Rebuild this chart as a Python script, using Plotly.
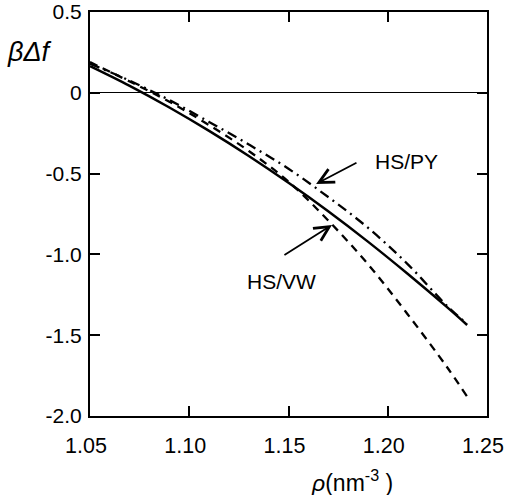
import plotly.graph_objects as go

rho = [1.05, 1.07, 1.09, 1.11, 1.13, 1.15, 1.17, 1.19, 1.21, 1.23, 1.24]
hs_solid = [0.165, 0.043, -0.091, -0.236, -0.391, -0.557, -0.733, -0.921, -1.12, -1.328, -1.437]
hs_py = [0.18, 0.075, -0.045, -0.18, -0.32, -0.47, -0.645, -0.835, -1.06, -1.32, -1.43]
hs_vw = [0.19, 0.07, -0.055, -0.20, -0.36, -0.55, -0.79, -1.06, -1.37, -1.70, -1.88]

x_ticks = [1.05, 1.10, 1.15, 1.20, 1.25]
x_ticktext = ["1.05", "1.10", "1.15", "1.20", "1.25"]
y_ticks = [0.5, 0, -0.5, -1.0, -1.5, -2.0]
y_ticktext = ["0.5", "0", "-0.5", "-1.0", "-1.5", "-2.0"]

FONT = "Liberation Sans, Arial, sans-serif"

fig = go.Figure()
fig.add_trace(go.Scatter(x=rho, y=hs_vw, mode="lines", line=dict(color="black", width=2.3, dash="8px,6px", shape="spline"), showlegend=False))
fig.add_trace(go.Scatter(x=rho, y=hs_py, mode="lines", line=dict(color="black", width=2.3, dash="10px,5px,2px,5px", shape="spline"), showlegend=False))
fig.add_trace(go.Scatter(x=rho, y=hs_solid, mode="lines", line=dict(color="black", width=2.5, shape="spline"), showlegend=False))

fig.update_xaxes(range=[1.05, 1.25], tickvals=x_ticks, ticktext=x_ticktext, automargin=False,
                 ticks="inside", ticklen=10, tickwidth=2, tickcolor="black",
                 showline=True, linecolor="black", linewidth=2, mirror="allticks",
                 showgrid=False, zeroline=False, ticklabelstandoff=9, ticklabelshift=-4,
                 ticklabeloverflow="allow",
                 tickfont=dict(family=FONT, size=21.5, color="black"))
fig.update_yaxes(range=[-2.0, 0.5], tickvals=y_ticks, ticktext=y_ticktext, automargin=False,
                 ticks="inside", ticklen=10, tickwidth=2, tickcolor="black",
                 showline=True, linecolor="black", linewidth=2, mirror="allticks",
                 showgrid=False, zeroline=True, zerolinecolor="black", zerolinewidth=1.2,
                 ticklabelstandoff=2, ticklabeloverflow="allow",
                 tickfont=dict(family=FONT, size=21, color="black"))

fig.add_annotation(x=1.1639, y=-0.564, ax=1.185, ay=-0.428, xref="x", yref="y", axref="x", ayref="y",
                   showarrow=True, arrowhead=5, arrowsize=1.6, arrowwidth=1.8, arrowcolor="black", text="")
fig.add_annotation(x=1.1719, y=-0.818, ax=1.1472, ay=-1.010, xref="x", yref="y", axref="x", ayref="y",
                   showarrow=True, arrowhead=5, arrowsize=1.6, arrowwidth=1.8, arrowcolor="black", text="")
fig.add_annotation(x=1.2092, y=-0.422, xref="x", yref="y", text="HS/PY", showarrow=False,
                   font=dict(family=FONT, size=21, color="black"))
fig.add_annotation(x=1.1467, y=-1.165, xref="x", yref="y", text="HS/VW", showarrow=False,
                   font=dict(family=FONT, size=21, color="black"))

fig.add_annotation(xref="paper", yref="paper", x=-0.152, y=0.9, xanchor="center", yanchor="middle",
                   text="<i>βΔf</i>", showarrow=False, font=dict(family=FONT, size=27, color="black"))
fig.add_annotation(xref="paper", yref="paper", x=0.66, y=-0.16, xanchor="center", yanchor="middle",
                   text="<i>ρ</i>(nm<sup>-3</sup> )", showarrow=False, font=dict(family=FONT, size=23, color="black"))

fig.update_layout(width=508, height=495, margin=dict(l=90, r=21, t=12, b=79),
                  plot_bgcolor="white", paper_bgcolor="white")

fig.write_html("out.html", config={"displayModeBar": False})

with open("out.html", "r", encoding="utf-8") as f:
    html = f.read()
html = html.replace("<body>", "<body style=\"margin:0;padding:0;overflow:hidden\">", 1)
with open("out.html", "w", encoding="utf-8") as f:
    f.write(html)
